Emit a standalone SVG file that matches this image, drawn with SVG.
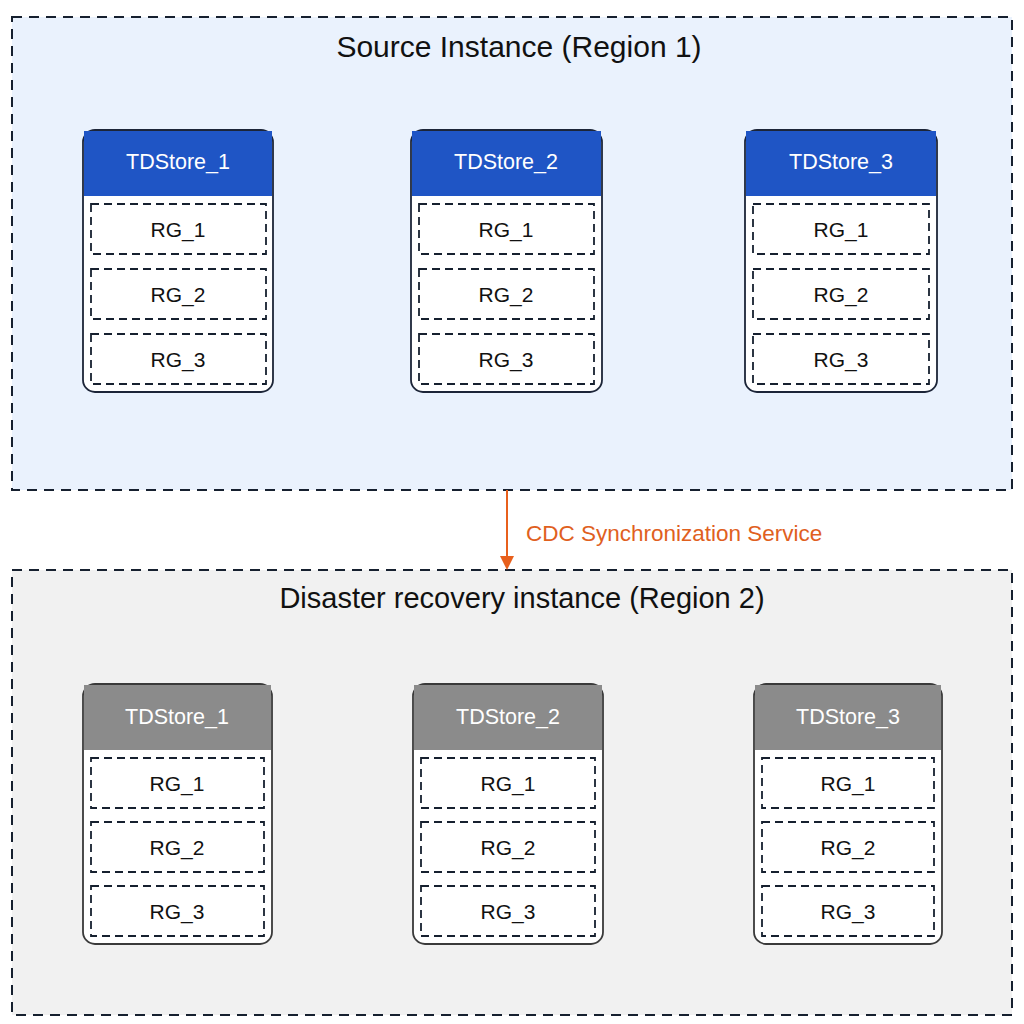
<svg xmlns="http://www.w3.org/2000/svg" width="1024" height="1024" viewBox="0 0 1024 1024">
<style>
text{font-family:"Liberation Sans",Arial,sans-serif;}
.region{stroke:#16202f;stroke-width:2;stroke-dasharray:10 7;}
.title{font-size:29px;fill:#111;text-anchor:middle;}
.card{fill:#fff;stroke:#1c2538;stroke-width:1.8;}
.cardg{fill:#fff;stroke:#3a3a3a;stroke-width:1.8;}
.hdr{fill:#1f55c5;}
.hdrg{fill:#8b8b8b;}
.htxt{font-size:21.5px;fill:#fff;text-anchor:middle;}
.rg{fill:#fff;stroke:#16202f;stroke-width:1.8;stroke-dasharray:8 5;}
.rtxt{font-size:21px;fill:#111;text-anchor:middle;}
.lbl{font-size:22.5px;fill:#e0601e;}
</style>
<defs>
<marker id="ah" markerWidth="14" markerHeight="14" refX="12" refY="7" orient="auto" markerUnits="userSpaceOnUse"><path d="M0,0 L14,7 L0,14 Z" fill="#e8601c"/></marker>
</defs>
<rect width="1024" height="1024" fill="#fff"/>
<g id="region1">
<rect class="region" x="12" y="17" width="1000" height="473" fill="#eaf2fd"/>
<text class="title" x="519" y="57" style="font-size:30px">Source Instance (Region 1)</text>
</g>
<g id="region2">
<rect class="region" x="12" y="570" width="1000" height="445" fill="#f1f1f1"/>
<text class="title" x="522" y="608">Disaster recovery instance (Region 2)</text>
</g>
<g id="connectors">
<line x1="507" y1="490" x2="507" y2="568" stroke="#e8601c" stroke-width="2" marker-end="url(#ah)"/>
<text class="lbl" x="526" y="541">CDC Synchronization Service</text>
</g>
<g id="s1">
<rect class="card" x="83" y="130" width="190" height="262" rx="12"/>
<path class="hdr" d="M84,131 H272 V196 H84 Z"/>
<text class="htxt" x="178" y="169">TDStore_1</text>
<rect class="rg" x="91" y="204" width="175" height="50"/><text class="rtxt" x="178" y="237">RG_1</text>
<rect class="rg" x="91" y="269" width="175" height="50"/><text class="rtxt" x="178" y="302">RG_2</text>
<rect class="rg" x="91" y="334" width="175" height="50"/><text class="rtxt" x="178" y="367">RG_3</text>
</g>
<g id="s2">
<rect class="card" x="411" y="130" width="191" height="262" rx="12"/>
<path class="hdr" d="M412,131 H601 V196 H412 Z"/>
<text class="htxt" x="506" y="169">TDStore_2</text>
<rect class="rg" x="419" y="204" width="175" height="50"/><text class="rtxt" x="506" y="237">RG_1</text>
<rect class="rg" x="419" y="269" width="175" height="50"/><text class="rtxt" x="506" y="302">RG_2</text>
<rect class="rg" x="419" y="334" width="175" height="50"/><text class="rtxt" x="506" y="367">RG_3</text>
</g>
<g id="s3">
<rect class="card" x="745" y="130" width="192" height="262" rx="12"/>
<path class="hdr" d="M746,131 H936 V196 H746 Z"/>
<text class="htxt" x="841" y="169">TDStore_3</text>
<rect class="rg" x="753" y="204" width="176" height="50"/><text class="rtxt" x="841" y="237">RG_1</text>
<rect class="rg" x="753" y="269" width="176" height="50"/><text class="rtxt" x="841" y="302">RG_2</text>
<rect class="rg" x="753" y="334" width="176" height="50"/><text class="rtxt" x="841" y="367">RG_3</text>
</g>
<g id="d1">
<rect class="cardg" x="83" y="684" width="189" height="260" rx="12"/>
<path class="hdrg" d="M84,685 H271 V750 H84 Z"/>
<text class="htxt" x="177" y="724">TDStore_1</text>
<rect class="rg" x="91" y="758" width="173" height="50"/><text class="rtxt" x="177" y="791">RG_1</text>
<rect class="rg" x="91" y="822" width="173" height="50"/><text class="rtxt" x="177" y="855">RG_2</text>
<rect class="rg" x="91" y="886" width="173" height="50"/><text class="rtxt" x="177" y="919">RG_3</text>
</g>
<g id="d2">
<rect class="cardg" x="413" y="684" width="190" height="260" rx="12"/>
<path class="hdrg" d="M414,685 H602 V750 H414 Z"/>
<text class="htxt" x="508" y="724">TDStore_2</text>
<rect class="rg" x="421" y="758" width="174" height="50"/><text class="rtxt" x="508" y="791">RG_1</text>
<rect class="rg" x="421" y="822" width="174" height="50"/><text class="rtxt" x="508" y="855">RG_2</text>
<rect class="rg" x="421" y="886" width="174" height="50"/><text class="rtxt" x="508" y="919">RG_3</text>
</g>
<g id="d3">
<rect class="cardg" x="754" y="684" width="188" height="260" rx="12"/>
<path class="hdrg" d="M755,685 H941 V750 H755 Z"/>
<text class="htxt" x="848" y="724">TDStore_3</text>
<rect class="rg" x="762" y="758" width="172" height="50"/><text class="rtxt" x="848" y="791">RG_1</text>
<rect class="rg" x="762" y="822" width="172" height="50"/><text class="rtxt" x="848" y="855">RG_2</text>
<rect class="rg" x="762" y="886" width="172" height="50"/><text class="rtxt" x="848" y="919">RG_3</text>
</g>
</svg>
